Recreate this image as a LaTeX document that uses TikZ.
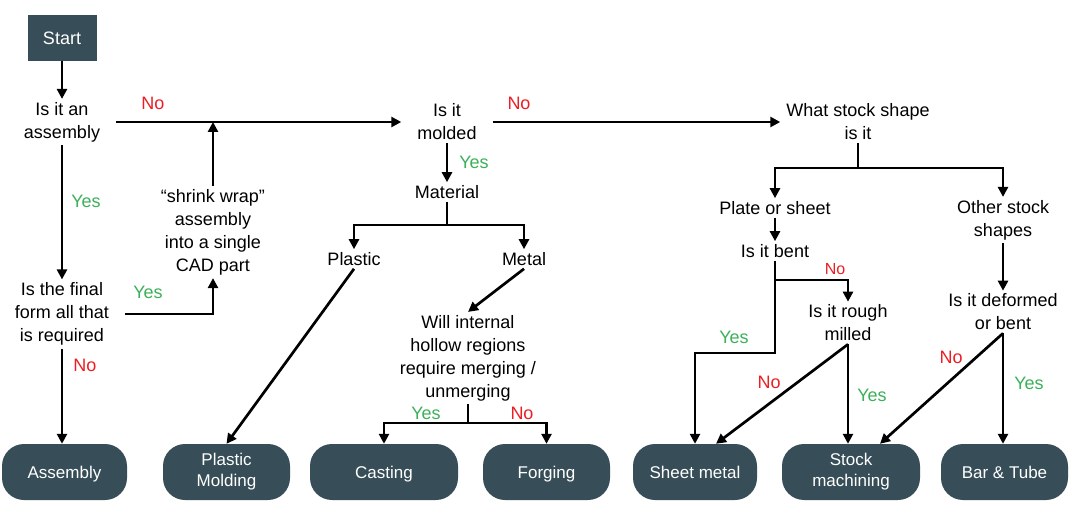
\documentclass[tikz,border=0pt]{standalone}
\usepackage{fontspec}
\setmainfont{Liberation Sans}
\usetikzlibrary{arrows.meta,positioning}
\definecolor{slate}{RGB}{55,78,88}
\definecolor{nored}{RGB}{235,30,35}
\definecolor{yesgreen}{RGB}{60,175,90}
\tikzset{
  q/.style={align=center, font=\fontsize{18}{23}\selectfont, inner xsep=16pt, inner ysep=3pt},
  startbox/.style={rectangle, fill=slate, text=white, font=\fontsize{18}{22}\selectfont, minimum width=69pt, minimum height=46pt},
  endbox/.style={rectangle, rounded corners=22pt, fill=slate, text=white, align=center, font=\fontsize{17}{21}\selectfont, minimum height=56pt, inner sep=2pt,
    execute at begin node=\rule{0pt}{14pt}, execute at end node={\rule[-4pt]{0pt}{20pt}}},
  arr/.style={-{Triangle[length=10pt,width=10pt]}, line width=2.7pt},
  ln/.style={line width=2.7pt},
  lyes/.style={text=yesgreen, font=\fontsize{18}{22}\selectfont},
  lno/.style={text=nored, font=\fontsize{18}{22}\selectfont},
}

\begin{document}
\begin{tikzpicture}[x=1pt, y=-1pt]
\useasboundingbox (0,0) rectangle (1075,510);
% questions
\node[startbox] (start) at (62,38) {Start};
\node[q] (asm) at (62,122) {Is it an\\assembly};
\node[q] (fin) at (62,314) {Is the final\\form all that\\is required};
\node[q] (shr) at (213,232) {“shrink wrap”\\assembly\\into a single\\CAD part};
\node[q] (mold) at (447,122) {Is it\\molded};
\node[q] (mat) at (447,192) {Material};
\node[q] (plast) at (354,259) {Plastic};
\node[q] (metal) at (524,259) {Metal};
\node[q] (will) at (468,358) {Will internal\\hollow regions\\require merging /\\unmerging};
\node[q, inner xsep=6pt] (stock) at (858,122) {What stock shape\\is it};
\node[q] (plate) at (775,208) {Plate or sheet};
\node[q] (other) at (1003,220) {Other stock\\shapes};
\node[q] (bent) at (775,251) {Is it bent};
\node[q] (rough) at (848,323) {Is it rough\\milled};
\node[q] (deform) at (1003,312) {Is it deformed\\or bent};
% results
\node[endbox, minimum width=125pt] (assy) at (64.5,472) {Assembly};
\node[endbox, minimum width=127pt] (pmold) at (226.5,472) {Plastic\\Molding};
\node[endbox, minimum width=148pt] (cast) at (384,472) {Casting};
\node[endbox, minimum width=127pt] (forge) at (546.5,472) {Forging};
\node[endbox, minimum width=124pt] (sheet) at (695,472) {Sheet metal};
\node[endbox, minimum width=138pt] (smach) at (851,472) {Stock\\machining};
\node[endbox, minimum width=127pt] (bar) at (1004.5,472) {Bar \& Tube};
% junctions
\coordinate (matj) at (447,225);
\coordinate (willj) at (468,423);
\coordinate (stockj) at (858,168);
\coordinate (bentj) at (775,280);
\coordinate (bentk) at (775,353);
% connectors
\draw[arr] (start) -- (asm);
\draw[arr] (asm.east) -- (mold.west);
\draw[arr] (shr) -- (shr |- asm.east);
\draw[arr] (asm) -- (fin);
\draw[arr] (fin.east) -| (shr.south);
\draw[arr] (fin.south) -- (fin.south |- assy.north);
\draw[arr] (mold.east) -- (stock.west);
\draw[arr] (mold) -- (mat);
\draw[ln] (mat) -- (matj);
\draw[arr] (matj) -| (plast);
\draw[arr] (matj) -| (metal);
\draw[arr] (plast.south) -- (pmold.north);
\draw[arr] (metal.south) -- (will.north);
\draw[ln] (will) -- (willj);
\draw[arr] (willj) -| (cast);
\draw[arr] (willj) -| (forge);
\draw[ln] (stock) -- (stockj);
\draw[arr] (stockj) -| (plate);
\draw[arr] (stockj) -| (other);
\draw[arr] (plate) -- (bent);
\draw[arr] (bent.south) -- (bentk) -| (sheet);
\draw[arr] (bentj) -| (rough);
\draw[arr] (rough.south) -- (rough.south |- smach.north);
\draw[arr] (rough.south) -- ([xshift=21pt]sheet.north);
\draw[arr] (other) -- (deform);
\draw[arr] (deform.south) -- (deform.south |- bar.north);
\draw[arr] (deform.south) -- ([xshift=29pt]smach.north);
% labels
\node[lno] (n1) at (153,103) {No};
\node[lyes] (y1) at (86,201) {Yes};
\node[lyes] (y2) at (148,292) {Yes};
\node[lno] (n2) at (85,365) {No};
\node[lno] (n3) at (519,103) {No};
\node[lyes] (y3) at (474,162) {Yes};
\node[lyes] (y4) at (426,413) {Yes};
\node[lno] (n4) at (522,413) {No};
\node[lno, font=\fontsize{16}{20}\selectfont] (n5) at (835,269) {No};
\node[lyes] (y5) at (734,337) {Yes};
\node[lno] (n6) at (769,382) {No};
\node[lyes] (y6) at (872,395) {Yes};
\node[lno] (n7) at (951,357) {No};
\node[lyes] (y7) at (1029,383) {Yes};
\end{tikzpicture}
\end{document}
